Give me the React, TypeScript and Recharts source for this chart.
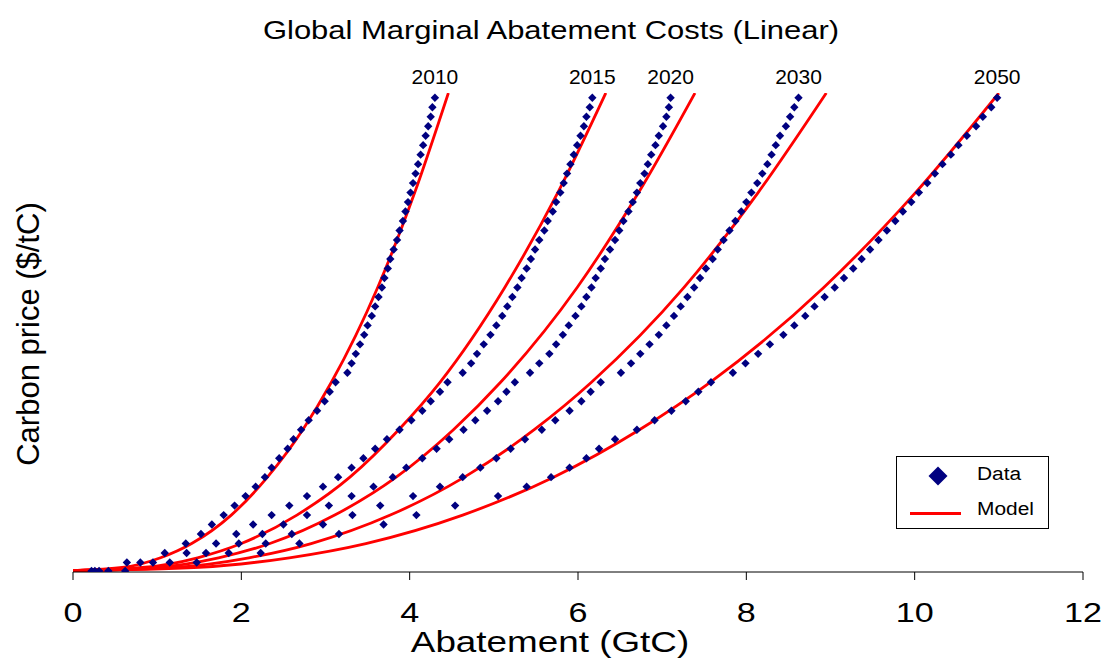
import { ComposedChart, Line, Scatter, XAxis, YAxis, ReferenceDot } from 'recharts';

// price levels of the data points ($/tC)
const priceLevels = [
  1, 10, 20, 30, 40, 50, 60, 70, 80, 90, 100, 110, 120, 130, 140, 150, 160, 170, 180, 190, 200,
  210, 220, 230, 240, 250, 260, 270, 280, 290, 300, 310, 320, 330, 340, 350, 360, 370, 380, 390,
  400, 410, 420, 430, 440, 450, 460, 470, 480, 490, 500,
];

// abatement (GtC) at each price level
const abate2010 = [
  0.22, 0.64, 1.09, 1.34, 1.52, 1.65, 1.79, 1.92, 2.05, 2.17, 2.28, 2.36, 2.45, 2.55, 2.62, 2.71,
  2.8, 2.9, 2.99, 3.05, 3.12, 3.26, 3.31, 3.36, 3.41, 3.46, 3.5, 3.55, 3.59, 3.63, 3.67, 3.7, 3.74,
  3.77, 3.81, 3.85, 3.88, 3.92, 3.95, 3.98, 4.01, 4.04, 4.07, 4.1, 4.13, 4.16, 4.19, 4.22, 4.25,
  4.27, 4.3,
];
const abate2015 = [
  0.26, 0.8, 1.35, 1.7, 1.94, 2.14, 2.36, 2.57, 2.78, 2.97, 3.15, 3.31, 3.45, 3.59, 3.73, 3.88,
  4.02, 4.15, 4.25, 4.36, 4.45, 4.63, 4.73, 4.8, 4.88, 4.96, 5.03, 5.1, 5.16, 5.22, 5.28, 5.33,
  5.39, 5.44, 5.49, 5.54, 5.6, 5.64, 5.7, 5.74, 5.79, 5.83, 5.87, 5.91, 5.95, 5.99, 6.03, 6.07,
  6.1, 6.14, 6.17,
];
const abate2020 = [
  0.31, 0.95, 1.58, 1.97, 2.25, 2.5, 2.78, 3.04, 3.31, 3.57, 3.8, 3.96, 4.15, 4.32, 4.47, 4.64,
  4.78, 4.92, 5.05, 5.15, 5.25, 5.43, 5.54, 5.66, 5.74, 5.82, 5.89, 5.97, 6.04, 6.1, 6.16, 6.21,
  6.27, 6.32, 6.38, 6.44, 6.49, 6.54, 6.6, 6.65, 6.7, 6.74, 6.79, 6.83, 6.87, 6.92, 6.96, 7.01,
  7.05, 7.08, 7.1,
];
const abate2030 = [
  0.42, 1.15, 1.85, 2.29, 2.6, 2.97, 3.32, 3.65, 4.04, 4.36, 4.63, 4.84, 5.03, 5.2, 5.37, 5.57,
  5.73, 5.9, 6.04, 6.15, 6.27, 6.51, 6.63, 6.74, 6.85, 6.96, 7.05, 7.14, 7.22, 7.3, 7.38, 7.45,
  7.52, 7.6, 7.66, 7.73, 7.8, 7.87, 7.94, 8.0, 8.06, 8.13, 8.19, 8.25, 8.3, 8.35, 8.4, 8.47, 8.52,
  8.57, 8.62,
];
const abate2050 = [
  0.62, 1.47, 2.23, 2.69, 3.16, 3.69, 4.08, 4.54, 5.05, 5.39, 5.68, 5.9, 6.1, 6.25, 6.44, 6.7,
  6.91, 7.11, 7.28, 7.43, 7.58, 7.84, 7.99, 8.14, 8.28, 8.44, 8.57, 8.7, 8.81, 8.93, 9.05, 9.16,
  9.27, 9.37, 9.47, 9.57, 9.67, 9.77, 9.86, 9.96, 10.05, 10.15, 10.24, 10.33, 10.43, 10.52, 10.62,
  10.73, 10.81, 10.91, 10.98,
];

// model curves: price levels and abatement
const modelPrices = [1.5, 5, 15, 30, 60, 100, 150, 200, 300, 400, 505];
const model2010 = [0, 0.61, 1.04, 1.41, 1.88, 2.31, 2.73, 3.07, 3.62, 4.06, 4.46];
const model2015 = [0, 0.86, 1.48, 2.0, 2.66, 3.29, 3.87, 4.36, 5.13, 5.76, 6.33];
const model2020 = [0, 1.01, 1.73, 2.34, 3.11, 3.84, 4.52, 5.08, 5.99, 6.72, 7.39];
const model2030 = [0, 1.22, 2.09, 2.83, 3.77, 4.65, 5.48, 6.16, 7.26, 8.14, 8.95];
const model2050 = [0, 1.5, 2.57, 3.48, 4.63, 5.71, 6.73, 7.57, 8.92, 10.01, 11.0];

const years = ['2010', '2015', '2020', '2030', '2050'];
const xTicks = [0, 2, 4, 6, 8, 10, 12];

const dataSeries = [abate2010, abate2015, abate2020, abate2030, abate2050];
const modelSeries = [model2010, model2015, model2020, model2030, model2050];

const NAVY = '#000080';
const RED = '#ff0000';

const Diamond = (props: any) => {
  const { cx, cy } = props;
  if (cx == null || cy == null) return null;
  const h = 4.2;
  return <path d={`M${cx},${cy - h}L${cx + h},${cy}L${cx},${cy + h}L${cx - h},${cy}Z`} fill={NAVY} />;
};

const AxisTick = (props: any) => {
  const { x, y, payload } = props;
  return (
    <text
      x={x}
      y={y}
      dy="0.71em"
      textAnchor="middle"
      fontSize={28}
      fill="#000"
      transform={`translate(${x},0) scale(1.22,1) translate(${-x},0)`}
    >
      {payload.value}
    </text>
  );
};

export default function App() {
  return (
    <div
      style={{
        position: 'absolute',
        left: 0,
        top: 0,
        width: 1110,
        height: 660,
        background: '#fff',
        fontFamily: '"Liberation Sans", Arial, sans-serif',
        overflow: 'hidden',
      }}
    >
      <div
        style={{
          position: 'absolute',
          left: 551,
          top: 17,
          fontSize: 26,
          lineHeight: '26px',
          whiteSpace: 'nowrap',
          transform: 'translateX(-50%) scaleX(1.19)',
        }}
      >
        Global Marginal Abatement Costs (Linear)
      </div>

      <ComposedChart width={1110} height={660} margin={{ top: 93, right: 27, bottom: 0, left: 73 }}>
        <XAxis
          type="number"
          dataKey="x"
          domain={[0, 12]}
          ticks={xTicks}
          height={88}
          tickSize={8}
          tickMargin={22}
          stroke="#000"
          tick={<AxisTick />}
        />
        <YAxis type="number" dataKey="y" domain={[0, 505]} allowDataOverflow hide />
        {modelSeries.map((xs, i) => (
          <Line
            key={`m${years[i]}`}
            data={xs.map((x, j) => ({ x, y: modelPrices[j] }))}
            dataKey="y"
            type="monotone"
            stroke={RED}
            strokeWidth={2.8}
            dot={false}
            activeDot={false}
            isAnimationActive={false}
          />
        ))}
        {dataSeries.map((xs, i) => (
          <Scatter
            key={`d${years[i]}`}
            data={xs.map((x, j) => ({ x, y: priceLevels[j] }))}
            dataKey="y"
            shape={<Diamond />}
            isAnimationActive={false}
          />
        ))}
        {dataSeries.map((xs, i) => (
          <ReferenceDot
            key={`l${years[i]}`}
            x={xs[xs.length - 1]}
            y={priceLevels[priceLevels.length - 1]}
            r={1}
            fill="none"
            stroke="none"
            label={{ value: years[i], position: 'top', offset: 13, fontSize: 21, fill: '#000' }}
          />
        ))}
      </ComposedChart>

      <div
        style={{
          position: 'absolute',
          left: 550,
          top: 628,
          fontSize: 29,
          lineHeight: '29px',
          whiteSpace: 'nowrap',
          transform: 'translateX(-50%) scaleX(1.27)',
        }}
      >
        Abatement (GtC)
      </div>
      <div
        style={{
          position: 'absolute',
          left: 27.5,
          top: 334,
          fontSize: 31,
          lineHeight: '31px',
          whiteSpace: 'nowrap',
          transform: 'translate(-50%, -50%) rotate(-90deg)',
        }}
      >
        Carbon price ($/tC)
      </div>

      {/* legend box */}
      <div
        style={{
          position: 'absolute',
          left: 896,
          top: 456,
          width: 151,
          height: 71,
          border: '1px solid #000',
          background: '#fff',
        }}
      >
        <svg width={151} height={71} style={{ position: 'absolute', left: 0, top: 0 }}>
          <path d="M41,9.5L50.5,19L41,28.5L31.5,19Z" fill={NAVY} />
          <line x1={13} y1={56.5} x2={64} y2={56.5} stroke={RED} strokeWidth={3} />
          <text x={80} y={23} fontSize={19} fill="#000" transform="translate(80,0) scale(1.1,1) translate(-80,0)">
            Data
          </text>
          <text x={80} y={58} fontSize={19} fill="#000" transform="translate(80,0) scale(1.1,1) translate(-80,0)">
            Model
          </text>
        </svg>
      </div>
    </div>
  );
}
